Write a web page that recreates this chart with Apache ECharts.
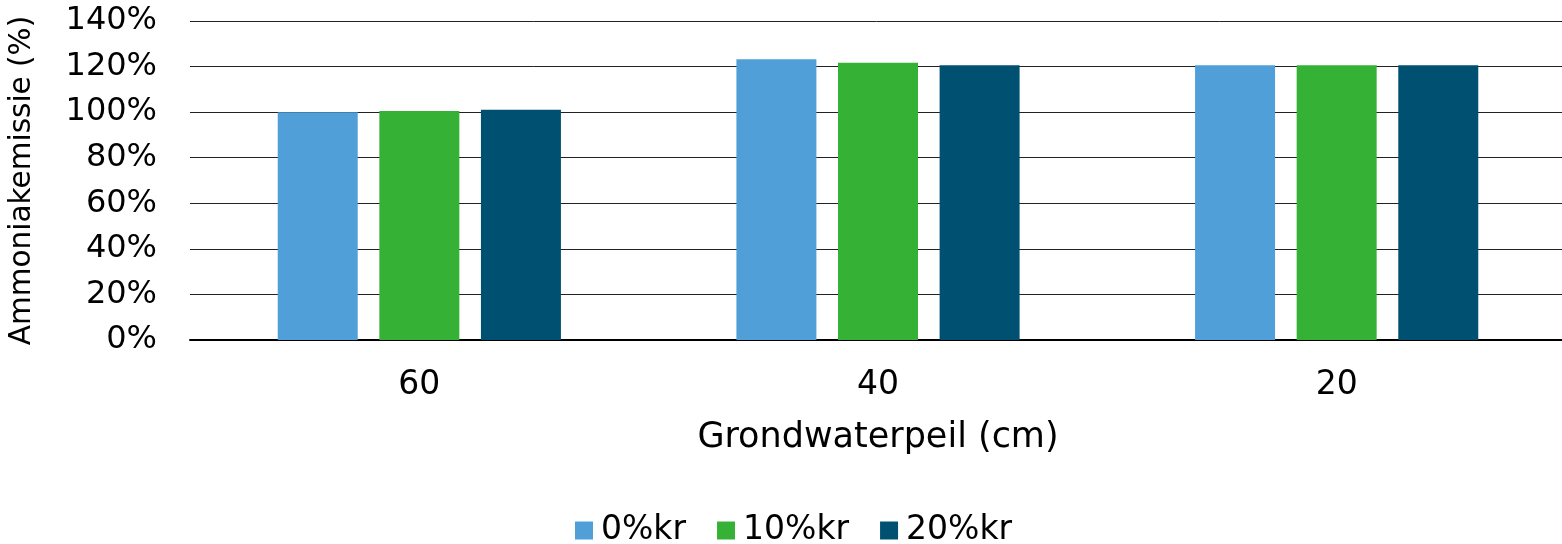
<!DOCTYPE html>
<html>
<head>
<meta charset="utf-8">
<script src="https://cdn.jsdelivr.net/npm/echarts@6/dist/echarts.min.js"></script>
<style>
  html, body { margin: 0; padding: 0; background: #fff; }
  #chart { width: 1562px; height: 544px; }
</style>
</head>
<body>
<div id="chart"></div>
<script>
// Grondwaterpeil categories (cm)
const categories = ['60', '40', '20'];
// Ammonia emission relative to reference (%), per crop-residue level
const series0 = [100, 123.2, 120.6];
const series10 = [100.5, 121.7, 120.6];
const series20 = [101, 120.6, 120.6];
const seriesNames = ['0%kr', '10%kr', '20%kr'];
const colors = ['#519FD8', '#35B235', '#005072'];

const font = 'Verdana, "DejaVu Sans", sans-serif';
const chart = echarts.init(document.getElementById('chart'));

chart.setOption({
  animation: false,
  color: colors,
  grid: {
    left: 190, right: -4, top: 21, bottom: 204,
    containLabel: false, outerBoundsMode: 'none'
  },
  legend: {
    top: 514,
    left: 575,
    padding: 0,
    itemWidth: 18,
    itemHeight: 18,
    itemGap: 31,
    icon: 'rect',
    textStyle: { fontFamily: font, fontSize: 33, color: '#000', padding: [0, 0, 0, 3] },
    data: seriesNames
  },
  xAxis: {
    type: 'category',
    data: categories,
    axisLine: { lineStyle: { color: '#000', width: 2 } },
    axisTick: { show: false },
    axisLabel: { fontFamily: font, fontSize: 33, color: '#000', margin: 29 },
    name: 'Grondwaterpeil (cm)',
    nameLocation: 'middle',
    nameGap: 80,
    nameTextStyle: { fontFamily: font, fontSize: 35, color: '#000' }
  },
  yAxis: {
    type: 'value',
    min: 0,
    max: 140,
    interval: 20,
    axisLine: { show: false },
    axisTick: { show: false },
    axisLabel: {
      fontFamily: font, fontSize: 32, color: '#000', margin: 33,
      formatter: v => v + '%'
    },
    splitLine: { lineStyle: { color: '#222', width: 1 } },
    name: 'Ammoniakemissie (%)',
    nameLocation: 'middle',
    nameGap: 153,
    nameTextStyle: { fontFamily: font, fontSize: 29.5, color: '#000' }
  },
  series: [
    { name: seriesNames[0], type: 'bar', data: series0, barWidth: 80, barGap: '27%' },
    { name: seriesNames[1], type: 'bar', data: series10, barWidth: 80, barGap: '27%' },
    { name: seriesNames[2], type: 'bar', data: series20, barWidth: 80, barGap: '27%' }
  ]
});
</script>
</body>
</html>
